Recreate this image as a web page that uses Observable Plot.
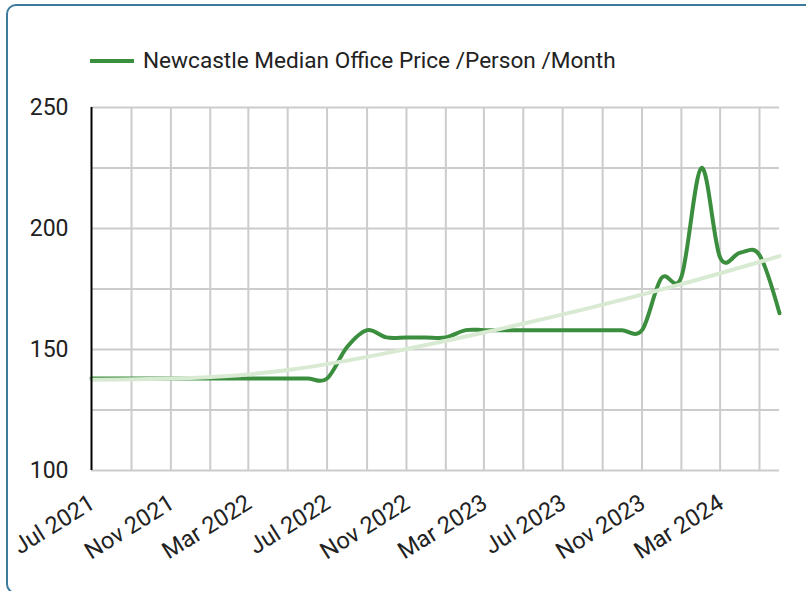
<!DOCTYPE html>
<html>
<head>
<meta charset="utf-8">
<script src="https://cdn.jsdelivr.net/npm/d3@7"></script>
<script src="https://cdn.jsdelivr.net/npm/@observablehq/plot@0.6"></script>
<style>
  html, body { margin: 0; padding: 0; background: #fff; }
  body { width: 806px; height: 591px; position: relative; overflow: hidden; font-family: Roboto, sans-serif; }
  #frame { position: absolute; left: 6px; top: 4px; width: 840px; height: 590px; box-sizing: border-box;
           border: 2px solid #3a7b9e; border-radius: 10px; }
  #legend-swatch { position: absolute; left: 90px; top: 59px; width: 44px; height: 4px; background: #3b8e3d; }
  #legend-text { position: absolute; left: 143px; top: 48px; font-size: 22.6px; line-height: 26px; color: #222; white-space: nowrap; }
  #chart { position: absolute; left: 0; top: 85px; }
</style>
</head>
<body>
<div id="frame"></div>
<div id="legend-swatch"></div>
<div id="legend-text">Newcastle Median Office Price /Person /Month</div>
<div id="chart"></div>
<script>
const months = [
  "2021-07","2021-08","2021-09","2021-10","2021-11","2021-12",
  "2022-01","2022-02","2022-03","2022-04","2022-05","2022-06",
  "2022-07","2022-08","2022-09","2022-10","2022-11","2022-12",
  "2023-01","2023-02","2023-03","2023-04","2023-05","2023-06",
  "2023-07","2023-08","2023-09","2023-10","2023-11","2023-12",
  "2024-01","2024-02","2024-03","2024-04","2024-05","2024-06"
];
const prices = [
  138,138,138,138,138,138,
  138,138,138,138,138,138,
  138,151,158,155,155,155,
  155,158,158,158,158,158,
  158,158,158,158,158,179.5,
  180,225,188,190,189,165
];
const trendMonths = ["2021-07","2021-12","2022-05","2022-10","2023-03","2023-08","2024-01","2024-06"];
const trendValues = [137.5,138.2,141.5,148.5,157,166.5,177,188.6];
const yTickValues = [100,150,200,250];
const yGridValues = [100,125,150,175,200,225,250];
const xTickMonths = ["2021-07","2021-11","2022-03","2022-07","2022-11","2023-03","2023-07","2023-11","2024-03"];
const xTickLabels = ["Jul 2021","Nov 2021","Mar 2022","Jul 2022","Nov 2022","Mar 2023","Jul 2023","Nov 2023","Mar 2024"];
const xGridMonths = ["2021-09","2021-11","2022-01","2022-03","2022-05","2022-07","2022-09","2022-11",
  "2023-01","2023-03","2023-05","2023-07","2023-09","2023-11","2024-01","2024-03","2024-05"];

const parse = d3.utcParse("%Y-%m");
const data = months.map((m, i) => ({date: parse(m), value: prices[i]}));
const trend = trendMonths.map((m, i) => ({date: parse(m), value: trendValues[i]}));
const xTicks = xTickMonths.map((m, i) => ({date: parse(m), label: xTickLabels[i]}));
const xGrid = xGridMonths.map(parse);
const start = parse(months[0]);

const chart = Plot.plot({
  width: 806,
  height: 506,
  marginLeft: 91,
  marginRight: 27,
  marginTop: 22,
  marginBottom: 121,
  x: {type: "utc", domain: [parse(months[0]), parse(months[months.length - 1])], axis: null},
  y: {domain: [100, 250], axis: null},
  style: {fontFamily: "Roboto, sans-serif", color: "#222", background: "transparent"},
  marks: [
    Plot.ruleY(yGridValues, {stroke: "#cccccc", strokeWidth: 2}),
    Plot.ruleX(xGrid, {y1: 100, y2: 250, stroke: "#cccccc", strokeWidth: 2}),
    Plot.line(data, {x: "date", y: "value", stroke: "#3b8e3d", strokeWidth: 4, curve: "cardinal"}),
    Plot.line(trend, {x: "date", y: "value", stroke: "#d9ead3", strokeWidth: 4, curve: "natural"}),
    Plot.ruleX([start], {y1: 100, y2: 250, stroke: "#000", strokeWidth: 2}),
    Plot.text(yTickValues, {x: start, y: d => d, text: d => String(d), dx: -23, textAnchor: "end", fontSize: 23, fill: "#222"}),
    Plot.text(xTicks, {x: "date", y: 100, text: "label", dy: 30, dx: 1, rotate: -32, textAnchor: "end", fontSize: 23.5, fill: "#222"})
  ]
});
document.getElementById("chart").appendChild(chart);
</script>
</body>
</html>
